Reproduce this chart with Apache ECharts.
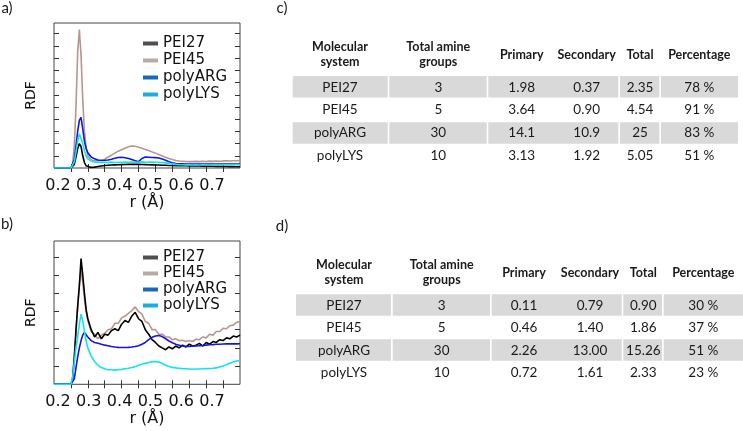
<!DOCTYPE html>
<html><head><meta charset="utf-8">
<script src="https://cdn.jsdelivr.net/npm/echarts@6/dist/echarts.min.js"></script>
<style>html,body{margin:0;padding:0;background:#fff}#c{width:743px;height:431px}</style>
</head><body><div id="c"></div>
<script>
// ---------- data ----------
const seriesNames = ['PEI27', 'PEI45', 'polyARG', 'polyLYS'];
const r = [0.20,0.22,0.24,0.25,0.255,0.26,0.265,0.27,0.275,0.28,0.285,0.29,0.295,0.30,
  0.31,0.32,0.33,0.34,0.35,0.36,0.37,0.38,0.39,0.40,
  0.41,0.42,0.43,0.44,0.45,0.46,0.47,0.48,0.49,0.50,
  0.51,0.52,0.53,0.54,0.55,0.56,0.57,0.58,0.59,0.60,
  0.61,0.62,0.63,0.64,0.65,0.66,0.67,0.68,0.69,0.70,
  0.71,0.72,0.73,0.74,0.75];

// panel a (RDF, arbitrary units: one unit per tick)
const pei27A = [0,0,0,0,0.05,0.3,0.9,1.6,2.0,1.75,1.0,0.45,0.18,0.08,
  0.05,0.07,0.12,0.17,0.2,0.22,0.24,0.26,0.27,0.28,
  0.29,0.3,0.3,0.3,0.3,0.29,0.28,0.27,0.26,0.25,
  0.24,0.23,0.22,0.21,0.2,0.19,0.19,0.18,0.18,0.17,
  0.17,0.16,0.16,0.15,0.15,0.14,0.14,0.13,0.13,0.12,
  0.12,0.11,0.11,0.1,0.1];
const pei45A = [0,0,0,0,0.3,1.8,5.0,9.5,11.35,9.2,5.6,3.0,1.7,1.0,
  0.65,0.6,0.6,0.64,0.72,0.9,1.05,1.22,1.38,1.5,
  1.62,1.74,1.8,1.78,1.7,1.62,1.52,1.44,1.32,1.22,
  1.1,0.98,0.88,0.78,0.7,0.62,0.57,0.55,0.53,0.52,
  0.52,0.54,0.52,0.55,0.53,0.56,0.54,0.57,0.55,0.58,
  0.58,0.57,0.6,0.6,0.61];
const polyARGA = [0,0,0,0,0.1,0.7,1.8,3.0,3.9,4.15,3.2,2.2,1.6,1.25,
  0.9,0.75,0.65,0.62,0.63,0.66,0.72,0.8,0.86,0.88,
  0.84,0.78,0.7,0.6,0.52,0.78,0.9,0.88,0.86,0.85,
  0.82,0.74,0.64,0.52,0.42,0.37,0.35,0.34,0.33,0.33,
  0.33,0.32,0.33,0.32,0.33,0.33,0.32,0.33,0.33,0.32,
  0.33,0.32,0.33,0.33,0.32];
const polyLYSA = [0,0,0,0,0.1,0.5,1.3,2.2,2.8,2.7,2.0,1.4,1.0,0.75,
  0.58,0.5,0.46,0.45,0.47,0.44,0.48,0.45,0.47,0.46,
  0.48,0.46,0.49,0.47,0.48,0.5,0.47,0.49,0.48,0.47,
  0.46,0.44,0.42,0.38,0.34,0.3,0.28,0.27,0.26,0.26,
  0.25,0.26,0.25,0.26,0.26,0.25,0.26,0.27,0.26,0.27,
  0.27,0.26,0.27,0.28,0.27];

// panel b
const pei27B = [0,0,0,0,0.3,1.5,3.0,4.3,5.4,6.9,6.0,5.0,4.1,3.6,
  3.0,2.6,2.85,2.5,2.75,2.7,2.95,3.05,2.95,3.3,
  3.5,3.4,3.75,3.95,3.6,3.45,3.0,2.75,2.45,2.3,
  2.1,2.0,1.9,2.05,1.95,2.1,2.0,2.15,2.05,2.2,
  2.1,2.15,2.25,2.1,2.3,2.2,2.35,2.3,2.45,2.4,
  2.55,2.5,2.65,2.6,2.7];
const pei45B = [0,0,0,0,0.3,1.4,2.8,4.2,5.5,6.25,5.6,4.7,4.0,3.5,
  2.9,2.75,2.5,2.7,2.8,3.0,3.05,3.35,3.35,3.65,
  3.75,3.9,4.05,4.25,4.0,3.85,3.45,3.35,3.0,3.0,
  2.75,2.75,2.6,2.6,2.45,2.5,2.4,2.42,2.35,2.4,
  2.35,2.48,2.45,2.6,2.55,2.75,2.7,2.9,2.9,3.08,
  3.05,3.22,3.25,3.4,3.45];
const polyARGB = [0,0,0,0,0,0.3,0.9,1.5,2.0,2.4,2.7,2.85,2.8,2.6,
  2.4,2.3,2.25,2.2,2.15,2.12,2.08,2.05,2.03,2.02,
  2.02,2.03,2.05,2.08,2.12,2.2,2.3,2.45,2.58,2.65,
  2.68,2.62,2.5,2.38,2.28,2.2,2.15,2.1,2.08,2.08,
  2.1,2.1,2.12,2.13,2.15,2.17,2.18,2.2,2.2,2.21,
  2.22,2.22,2.23,2.22,2.23];
const polyLYSB = [0,0,0,0,0.4,1.2,2.0,2.6,3.3,3.85,3.5,2.9,2.4,2.0,
  1.55,1.25,1.05,0.92,0.85,0.8,0.8,0.78,0.8,0.82,
  0.85,0.88,0.92,0.97,1.05,1.1,1.15,1.2,1.23,1.25,
  1.22,1.15,1.05,0.98,0.93,0.9,0.88,0.86,0.85,0.84,
  0.83,0.84,0.84,0.85,0.86,0.87,0.88,0.9,0.95,1.0,
  1.08,1.15,1.22,1.28,1.3];

// tick positions / labels
const xTickVals = [0.25,0.30,0.35,0.40,0.45,0.50,0.55,0.60,0.65,0.70];
const xLabelVals = [0.2,0.3,0.4,0.5,0.6,0.7];
const yTicksA = [1,2,3,4,5,6,7,8,9,10,11];
const yTicksB = [1,2,3,4,5,6,7];

// tables
const tableHeaders = ['Molecular\nsystem', 'Total amine\ngroups', 'Primary', 'Secondary', 'Total', 'Percentage'];
const systems = ['PEI27', 'PEI45', 'polyARG', 'polyLYS'];
const totalAmine = ['3', '5', '30', '10'];
const cPrimary = ['1.98', '3.64', '14.1', '3.13'];
const cSecondary = ['0.37', '0.90', '10.9', '1.92'];
const cTotal = ['2.35', '4.54', '25', '5.05'];
const cPercent = ['78 %', '91 %', '83 %', '51 %'];
const dPrimary = ['0.11', '0.46', '2.26', '0.72'];
const dSecondary = ['0.79', '1.40', '13.00', '1.61'];
const dTotal = ['0.90', '1.86', '15.26', '2.33'];
const dPercent = ['30 %', '37 %', '51 %', '23 %'];

// ---------- styling ----------
const lineColors = ['#000000', '#b9958f', '#1414e6', '#10e4ec'];
const legendColors = ['#4f4f4f', '#b9aaa4', '#1769bd', '#19ace6'];
const drawOrder = [1, 0, 2, 3];
const FONT = 'DejaVu Sans';
const TFONT = 'Lato';

function axesFor(gi, yMax, yTicks) {
  const tickStyle = {color: '#333', width: 1};
  const xs = [
    {gridIndex: gi, type: 'value', min: 0.2, max: 0.75, position: 'bottom',
     axisLine: {show: false}, axisLabel: {show: false}, splitLine: {show: false},
     axisTick: {show: true, inside: true, length: 4, customValues: xTickVals, lineStyle: tickStyle}},
    {gridIndex: gi, type: 'value', min: 0.2, max: 0.75, position: 'top',
     axisLine: {show: false}, axisLabel: {show: false}, splitLine: {show: false},
     axisTick: {show: true, inside: true, length: 4, customValues: xTickVals, lineStyle: tickStyle}},
    {gridIndex: gi, type: 'value', min: 0.187, max: 0.791, position: 'bottom',
     axisLine: {show: false}, axisTick: {show: false}, splitLine: {show: false},
     axisLabel: {show: true, customValues: xLabelVals, margin: 10, color: '#111',
       fontSize: 16, fontFamily: FONT, formatter: v => v.toFixed(1)},
     name: 'r (Å)', nameLocation: 'middle', nameGap: 24,
     nameTextStyle: {fontSize: 16, fontFamily: FONT, color: '#111'}}
  ];
  const ys = [
    {gridIndex: gi, type: 'value', min: 0, max: yMax, position: 'left',
     axisLine: {show: false}, axisLabel: {show: false}, splitLine: {show: false},
     axisTick: {show: true, inside: true, length: 5, customValues: yTicks, lineStyle: tickStyle},
     name: 'RDF', nameLocation: 'middle', nameGap: 16,
     nameTextStyle: {fontSize: 14, fontFamily: FONT, color: '#111'}},
    {gridIndex: gi, type: 'value', min: 0, max: yMax, position: 'right',
     axisLine: {show: false}, axisLabel: {show: false}, splitLine: {show: false},
     axisTick: {show: true, inside: true, length: 5, customValues: yTicks, lineStyle: tickStyle}}
  ];
  return {xs, ys};
}

const A = axesFor(0, 11.88, yTicksA);
const B = axesFor(1, 7.87, yTicksB);

const dataA = [pei27A, pei45A, polyARGA, polyLYSA];
const dataB = [pei27B, pei45B, polyARGB, polyLYSB];
const series = [];
[[dataA, 0, 0], [dataB, 3, 2]].forEach(([set, xi, yi]) => {
  drawOrder.forEach(k => {
    series.push({
      name: seriesNames[k], type: 'line', xAxisIndex: xi, yAxisIndex: yi,
      data: r.map((x, i) => [x, set[k][i]]),
      showSymbol: false, symbol: 'none', animation: false,
      lineStyle: {color: lineColors[k], width: 1.6},
      itemStyle: {color: lineColors[k]}
    });
  });
});

function legendAt(top, gap) {
  return {
    left: 138, top: top, orient: 'vertical', itemGap: gap, itemWidth: 15, itemHeight: 4,
    icon: 'rect', selectedMode: false,
    textStyle: {fontSize: 15, fontFamily: FONT, color: '#111'},
    data: seriesNames.map((n, i) => ({name: n, itemStyle: {color: legendColors[i]}}))
  };
}

// ---------- tables as graphics ----------
const graphics = [];
function txt(x, y, s, font, extra) {
  graphics.push(Object.assign({type: 'text', x: x, y: y, silent: true,
    style: {text: s, font: font, fill: '#1a1a1a', align: 'center', verticalAlign: 'middle',
      textAlign: 'center', textVerticalAlign: 'middle', lineHeight: 15}}, extra || {}));
}
function table(cols, headerY, rowYs, shadeTops, segs, cols5) {
  shadeTops.forEach(t => segs.forEach(([x0, x1]) => graphics.push({type: 'rect', silent: true,
    shape: {x: x0, y: t, width: x1 - x0, height: 21.5}, style: {fill: '#d9d9d9'}})));
  tableHeaders.forEach((h, i) => txt(cols[i], headerY, h, 'bold 12.5px ' + TFONT));
  const columns = [systems, totalAmine].concat(cols5);
  columns.forEach((col, ci) => col.forEach((v, ri) => txt(cols[ci], rowYs[ri], v, '13.5px ' + TFONT)));
}
table([340, 438.3, 521.7, 586.7, 640, 699.3], 54.5, [87.5, 110, 133, 155.5], [76, 122.3],
  [[292.7, 387.7], [389.3, 486.7], [488.3, 618.3], [620, 659.3], [661, 738]],
  [cPrimary, cSecondary, cTotal, cPercent]);
table([344, 441.7, 524, 590, 643.3, 703.3], 272.7, [306, 328, 350.3, 372.8], [294.3, 339.3],
  [[296, 391], [392.7, 490], [491.7, 621.7], [623.3, 662], [663.7, 743]],
  [dPrimary, dSecondary, dTotal, dPercent]);

// panel letters
[['a)', 7, 8], ['b)', 7, 224], ['c)', 282, 8], ['d)', 282, 226]].forEach(([s, x, y]) =>
  txt(x, y, s, '15px ' + TFONT));

const chart = echarts.init(document.getElementById('c'), null, {renderer: 'canvas'});
chart.setOption({
  animation: false,
  backgroundColor: '#ffffff',
  grid: [
    {left: 54, top: 23, width: 186, height: 145, show: true, borderColor: '#444', borderWidth: 1},
    {left: 54, top: 241, width: 186, height: 143.3, show: true, borderColor: '#444', borderWidth: 1}
  ],
  xAxis: A.xs.concat(B.xs),
  yAxis: A.ys.concat(B.ys),
  legend: [legendAt(31, 2), legendAt(245, 1)],
  series: series,
  graphic: graphics
});
</script>
</body></html>
